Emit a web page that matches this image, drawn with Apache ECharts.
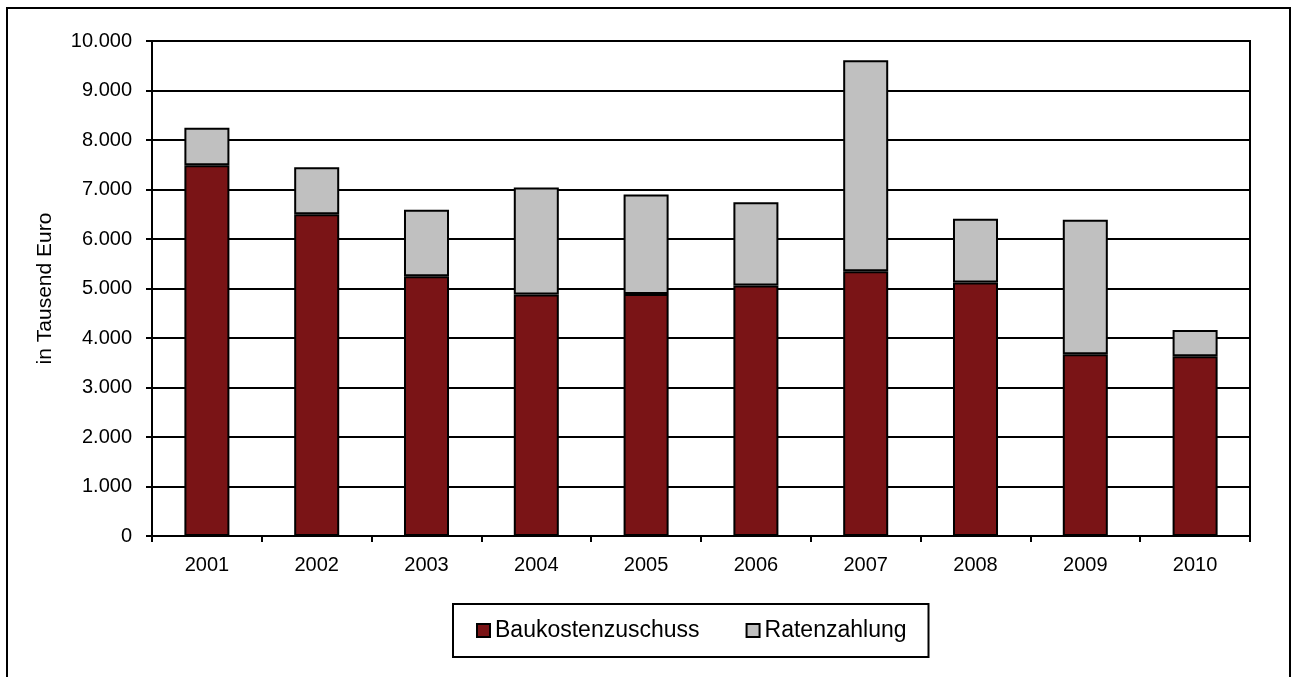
<!DOCTYPE html>
<html>
<head>
<meta charset="utf-8">
<title>Baukostenzuschuss und Ratenzahlung</title>
<script src="https://cdn.jsdelivr.net/npm/echarts@6/dist/echarts.min.js"></script>
<style>
  html, body { margin: 0; padding: 0; background: #fff; }
  #chart { width: 1293px; height: 677px; }
</style>
</head>
<body>
<div id="chart"></div>
<script>
// values in thousand euro
const years = ['2001', '2002', '2003', '2004', '2005', '2006', '2007', '2008', '2009', '2010']
const baukostenzuschuss = [7490, 6500, 5250, 4880, 4890, 5060, 5350, 5120, 3670, 3630]
const ratenzahlung = [760, 950, 1340, 2160, 2010, 1680, 4260, 1290, 2720, 530]

const fontFamily = '"Liberation Sans", Arial, sans-serif'
const barBorder = { borderColor: '#000', borderWidth: 2 }

const chart = echarts.init(document.getElementById('chart'))

chart.setOption({
  backgroundColor: '#fff',
  animation: false,
  textStyle: { fontFamily },
  graphic: [{
    type: 'rect',
    shape: { x: 7, y: 8, width: 1283, height: 700 },
    style: { fill: 'none', stroke: '#000', lineWidth: 2 },
    silent: true
  }],
  grid: {
    left: 152, right: 43, top: 41, bottom: 141,
    show: true, borderColor: '#000', borderWidth: 2, backgroundColor: 'transparent'
  },
  legend: {
    left: 453, top: 604,
    padding: [15, 22, 15, 23],
    borderColor: '#000', borderWidth: 2,
    itemWidth: 13, itemHeight: 13, itemGap: 46,
    icon: 'rect',
    textStyle: { fontSize: 23, color: '#000', fontFamily },
    data: ['Baukostenzuschuss', 'Ratenzahlung']
  },
  xAxis: {
    type: 'category',
    data: years,
    axisLine: { lineStyle: { color: '#000', width: 2 } },
    axisTick: { show: true, length: 6, lineStyle: { color: '#000', width: 2 } },
    axisLabel: { color: '#000', fontSize: 20, margin: 19 }
  },
  yAxis: {
    type: 'value',
    min: 0, max: 10000, interval: 1000,
    name: 'in Tausend Euro',
    nameLocation: 'middle',
    nameGap: 96,
    nameTextStyle: { color: '#000', fontSize: 21 },
    axisLine: { show: true, lineStyle: { color: '#000', width: 2 } },
    axisTick: { show: true, length: 6, lineStyle: { color: '#000', width: 2 } },
    axisLabel: {
      color: '#000', fontSize: 20, margin: 20,
      formatter: v => v.toLocaleString('de-DE')
    },
    splitLine: { show: true, lineStyle: { color: '#000', width: 2 } }
  },
  series: [
    {
      name: 'Baukostenzuschuss',
      type: 'bar',
      stack: 'total',
      barWidth: '41%',
      data: baukostenzuschuss,
      itemStyle: { color: '#7a1416', ...barBorder }
    },
    {
      name: 'Ratenzahlung',
      type: 'bar',
      stack: 'total',
      barWidth: '41%',
      data: ratenzahlung,
      itemStyle: { color: '#c0c0c0', ...barBorder }
    }
  ]
})
</script>
</body>
</html>
